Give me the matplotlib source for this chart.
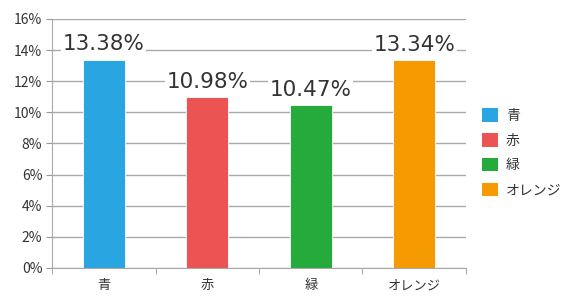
import matplotlib
matplotlib.use("Agg")
import matplotlib.pyplot as plt
from matplotlib.patches import Patch
from matplotlib.ticker import FuncFormatter

plt.rcParams['font.family'] = ['Noto Sans CJK JP', 'DejaVu Sans']

categories = ['青', '赤', '緑', 'オレンジ']
values = [13.38, 10.98, 10.47, 13.34]
colors = ['#29a6e1', '#ec5353', '#25ab3c', '#f59a00']
yticks = [0, 2, 4, 6, 8, 10, 12, 14, 16]

fig = plt.figure(figsize=(5.8, 3.0), dpi=100)
ax = fig.add_axes([0.0897, 0.1067, 0.7137, 0.83])

x = list(range(len(categories)))
ax.bar(x, values, width=0.41, color=colors, edgecolor='white', linewidth=0.6, zorder=2)

for xi, v in zip(x, values):
    ax.text(xi, v + 0.35, f'{v:.2f}%', ha='center', va='bottom', fontsize=15.5,
            color='#333333', zorder=4, family=['DejaVu Sans'],
            bbox=dict(boxstyle='square,pad=0.08', fc='white', ec='none'))

ax.set_xlim(-0.5, len(categories) - 0.5)
ax.set_ylim(0, 16)
ax.set_yticks(yticks)
ax.yaxis.set_major_formatter(FuncFormatter(lambda v, p: f'{int(v)}%'))
ax.set_xticks(x)
ax.set_xticklabels(categories)
ax.set_xticks([i - 0.5 for i in range(len(categories) + 1)], minor=True)
ax.tick_params(axis='x', which='major', length=0, pad=8, labelsize=9.5, labelcolor='#333333')
ax.tick_params(axis='x', which='minor', length=4, color='#999999', direction='out')
ax.tick_params(axis='y', length=4, color='#999999', labelsize=10, labelcolor='#333333', pad=3)

ax.grid(axis='y', color='#aaaaaa', linewidth=1, zorder=0)
ax.set_axisbelow(True)
for side in ['top', 'right']:
    ax.spines[side].set_visible(False)
ax.spines['left'].set_color('#aaaaaa')
ax.spines['bottom'].set_color('#aaaaaa')

handles = [Patch(facecolor=c, edgecolor='none') for c in colors]
fig.legend(handles, categories, loc='upper left', bbox_to_anchor=(0.81, 0.68),
           frameon=False, fontsize=10, handlelength=1.1, handleheight=1.1,
           handletextpad=0.6, labelspacing=0.75, labelcolor='#333333')

fig.savefig('out.png', dpi=100)
